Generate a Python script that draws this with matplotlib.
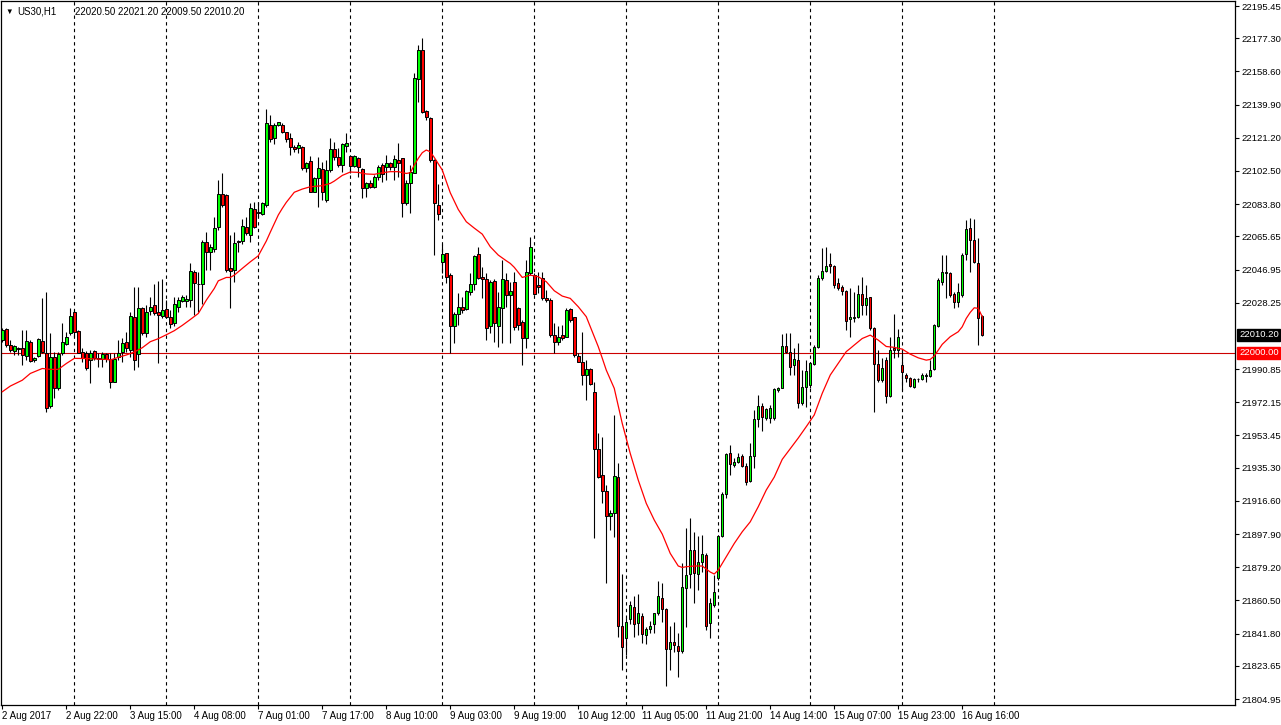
import numpy as np
import matplotlib.pyplot as plt
import matplotlib.transforms as mtransforms

plt.rcParams['font.family'] = ['Liberation Sans', 'DejaVu Sans']

W, H = 1281, 725

# hourly candles, US30 H1
opens = [
    22007.2, 22013.2, 22004.7, 22001.2, 22002.5, 22002.5, 21998.4, 22006.1, 21995.7, 21998.2,
    22006.6, 22000.1, 21970.2, 21997.4, 21980.3, 22000.1, 22004.9, 22011.3, 22023.0, 22012.3,
    22000.6, 22000.1, 21996.0, 22001.2, 21996.9, 21996.3, 21999.3, 21996.7, 21983.7, 21997.8,
    22000.6, 22006.3, 22001.6, 22020.4, 21999.3, 22025.1, 22011.0, 22023.8, 22026.9, 22023.2,
    22020.9, 22024.5, 22020.4, 22017.0, 22026.0, 22029.3, 22029.3, 22029.7, 22045.7, 22038.7,
    22038.7, 22062.2, 22056.6, 22058.8, 22070.7, 22089.8, 22088.9, 22047.6, 22046.6, 22063.0,
    22063.0, 22071.0, 22066.3, 22080.8, 22079.0, 22078.1, 22083.3, 22128.4, 22120.9, 22128.4,
    22128.4, 22124.3, 22120.9, 22116.2, 22115.2, 22116.2, 22104.0, 22108.1, 22090.8, 22098.3,
    22103.6, 22086.1, 22103.0, 22114.9, 22110.6, 22105.8, 22116.7, 22110.9, 22105.3, 22109.6,
    22103.4, 22092.7, 22095.5, 22093.6, 22099.3, 22105.8, 22104.5, 22106.8, 22104.5, 22108.6,
    22109.6, 22084.2, 22095.5, 22101.5, 22154.1, 22170.6, 22136.3, 22132.1, 22108.6, 22083.6,
    22051.3, 22056.0, 22043.8, 22015.3, 22021.7, 22025.6, 22024.7, 22034.4, 22038.6, 22055.5,
    22042.9, 22041.9, 22015.1, 22040.4, 22015.1, 22025.0, 22041.0, 22032.6, 22040.1, 22025.1,
    22017.5, 22008.2, 22044.8, 22043.8, 22038.2, 22042.3, 22030.7, 22029.8, 22010.0, 22006.3,
    22010.0, 22009.1, 22024.5, 22020.0, 21998.2, 21994.6, 21987.5, 21990.7, 21978.1, 21945.6,
    21931.1, 21922.1, 21908.2, 21909.5, 21929.8, 21846.0, 21839.5, 21849.8, 21856.9, 21847.9,
    21851.9, 21841.3, 21844.5, 21847.0, 21853.2, 21861.6, 21855.4, 21832.9, 21837.2, 21834.8,
    21832.1, 21867.3, 21875.4, 21888.9, 21875.4, 21882.3, 21886.1, 21847.6, 21857.9, 21872.9,
    21896.8, 21920.4, 21943.4, 21936.8, 21938.7, 21942.0, 21936.4, 21928.0, 21941.8, 21963.0,
    21970.0, 21963.1, 21963.1, 21963.5, 21979.1, 21980.4, 22003.9, 22000.7, 21993.1, 21996.0,
    21971.9, 21980.9, 21981.9, 21993.7, 22003.5, 22042.0, 22046.3, 22049.9, 22048.9, 22039.2,
    22037.3, 22034.8, 22018.9, 22019.8, 22020.3, 22032.9, 22026.9, 22031.2, 22013.8, 21994.0,
    21984.6, 21995.9, 21975.6, 22002.5, 22001.6, 21993.1, 21987.8, 21985.6, 21980.5, 21985.0,
    21985.0, 21986.9, 21986.9, 21990.8, 22015.3, 22039.7, 22044.8, 22044.8, 22033.0, 22028.8,
    22032.6, 22055.5, 22070.2, 22063.6, 22050.4, 22020.5,
]
highs = [
    22013.8, 22013.8, 22007.2, 22004.4, 22003.4, 22012.8, 22012.8, 22007.2, 21997.8, 22008.1,
    22030.7, 22034.4, 22011.3, 22000.6, 22000.6, 22016.6, 22011.9, 22025.0, 22024.1, 22012.8,
    22002.5, 22001.2, 22001.6, 22001.6, 21999.7, 22000.6, 21999.7, 21999.7, 21999.7, 22007.2,
    22008.2, 22011.9, 22023.2, 22037.3, 22037.3, 22026.0, 22026.9, 22031.6, 22038.8, 22040.7,
    22041.4, 22029.8, 22024.1, 22031.6, 22031.6, 22032.5, 22032.5, 22050.4, 22046.6, 22045.7,
    22063.5, 22068.2, 22061.6, 22076.7, 22097.3, 22101.5, 22089.8, 22066.3, 22068.2, 22063.5,
    22075.7, 22076.7, 22084.2, 22085.1, 22085.1, 22085.2, 22137.4, 22134.0, 22129.3, 22130.3,
    22129.3, 22124.6, 22123.7, 22117.1, 22119.0, 22116.6, 22107.7, 22110.9, 22099.3, 22110.6,
    22107.7, 22108.7, 22120.9, 22119.0, 22115.2, 22118.4, 22123.7, 22111.5, 22111.5, 22110.5,
    22104.0, 22096.4, 22097.4, 22100.2, 22105.8, 22106.8, 22111.5, 22107.7, 22111.5, 22118.0,
    22109.6, 22097.4, 22105.8, 22157.9, 22173.4, 22177.2, 22136.8, 22132.7, 22109.0, 22095.1,
    22061.1, 22056.4, 22044.8, 22023.2, 22033.9, 22031.6, 22035.4, 22044.8, 22055.1, 22059.8,
    22048.5, 22044.8, 22041.0, 22041.9, 22034.4, 22052.3, 22045.1, 22040.1, 22045.7, 22026.0,
    22018.5, 22052.3, 22065.4, 22045.2, 22045.7, 22045.7, 22035.4, 22030.7, 22016.6, 22015.3,
    22015.7, 22025.1, 22025.1, 22020.4, 21999.7, 22011.5, 21995.9, 21991.3, 21983.7, 21954.6,
    21952.7, 21925.5, 21911.4, 21964.9, 21937.7, 21875.3, 21850.4, 21860.3, 21863.1, 21864.1,
    21853.2, 21845.7, 21849.1, 21853.7, 21871.6, 21870.5, 21856.0, 21846.0, 21848.5, 21841.9,
    21881.7, 21901.1, 21906.7, 21899.2, 21896.8, 21897.3, 21887.0, 21861.6, 21874.8, 21897.3,
    21921.8, 21943.4, 21948.0, 21940.5, 21943.4, 21943.0, 21937.7, 21949.0, 21968.0, 21976.0,
    21972.0, 21969.1, 21970.6, 21980.0, 21981.0, 22010.4, 22011.0, 22011.0, 22002.5, 22005.4,
    21990.3, 21996.0, 21995.0, 22004.4, 22043.9, 22059.3, 22059.8, 22056.1, 22049.5, 22042.0,
    22038.2, 22035.4, 22036.3, 22034.4, 22038.2, 22042.9, 22038.2, 22031.6, 22014.7, 22001.6,
    21996.9, 21997.4, 22009.1, 22021.8, 22013.4, 22001.6, 21988.8, 21986.5, 21985.6, 21985.6,
    21988.4, 21988.4, 21995.9, 22016.5, 22042.0, 22055.1, 22055.1, 22045.7, 22034.5, 22039.2,
    22056.1, 22074.8, 22075.8, 22075.4, 22064.5, 22021.2,
]
lows = [
    22006.3, 22003.4, 22000.6, 21998.7, 21998.7, 21993.1, 21995.9, 21995.0, 21995.0, 21997.8,
    21999.7, 21966.8, 21968.7, 21974.3, 21979.0, 21998.7, 22004.4, 22010.0, 22009.1, 21999.7,
    21995.0, 21990.3, 21982.8, 21996.0, 21992.2, 21992.2, 21995.0, 21980.0, 21983.7, 21996.0,
    21995.0, 22000.6, 21997.8, 21990.3, 21992.2, 22010.0, 22009.1, 22021.3, 22021.3, 21994.1,
    22019.4, 22019.4, 22013.8, 22015.0, 22023.1, 22028.8, 22026.0, 22026.0, 22021.3, 22023.1,
    22027.8, 22046.6, 22046.6, 22056.9, 22069.2, 22082.3, 22045.7, 22025.2, 22040.0, 22056.9,
    22061.6, 22066.3, 22062.6, 22070.1, 22076.7, 22077.7, 22082.4, 22119.0, 22117.5, 22128.0,
    22123.7, 22119.0, 22111.5, 22113.4, 22112.4, 22103.0, 22102.1, 22090.8, 22090.5, 22082.4,
    22086.1, 22085.2, 22102.1, 22108.7, 22104.9, 22102.1, 22113.3, 22101.1, 22104.9, 22099.3,
    22087.0, 22088.0, 22092.7, 22092.7, 22097.4, 22096.4, 22097.4, 22103.0, 22097.4, 22099.3,
    22076.7, 22083.3, 22078.6, 22101.1, 22141.5, 22134.9, 22131.2, 22107.7, 22055.1, 22074.8,
    22044.8, 22039.1, 21999.7, 22005.3, 22015.7, 22022.2, 22024.1, 22032.6, 22035.4, 22041.9,
    22030.7, 22007.2, 22011.0, 22006.3, 22003.4, 22005.3, 22026.0, 22005.3, 22012.9, 22012.9,
    21993.1, 22002.5, 22043.8, 22032.6, 22033.5, 22029.8, 22028.8, 22009.1, 21999.7, 22004.4,
    22007.2, 22008.7, 22017.5, 21997.8, 21995.0, 21981.9, 21973.4, 21981.9, 21895.5, 21929.3,
    21915.5, 21870.1, 21900.1, 21896.4, 21840.0, 21821.3, 21829.7, 21847.5, 21840.0, 21841.0,
    21836.3, 21835.7, 21841.9, 21841.9, 21852.2, 21848.5, 21812.2, 21821.3, 21831.6, 21817.5,
    21831.0, 21845.7, 21867.3, 21859.2, 21866.3, 21876.7, 21843.8, 21839.1, 21856.9, 21872.0,
    21896.4, 21918.0, 21931.1, 21935.8, 21937.7, 21935.8, 21925.5, 21927.4, 21935.0, 21958.0,
    21956.0, 21962.2, 21960.3, 21962.2, 21978.1, 21980.0, 21999.7, 21987.5, 21987.5, 21969.1,
    21970.6, 21969.7, 21980.0, 21993.1, 22002.5, 22041.0, 22045.7, 22044.8, 22036.7, 22035.4,
    22032.6, 22012.9, 22009.1, 22017.5, 22019.4, 22021.3, 22021.3, 22012.8, 21966.8, 21983.7,
    21983.7, 21971.9, 21975.3, 21996.9, 21997.8, 21979.0, 21983.7, 21980.9, 21980.0, 21983.7,
    21984.6, 21983.7, 21986.5, 21990.3, 22014.7, 22038.2, 22030.7, 22031.6, 22025.1, 22026.0,
    22031.6, 22052.3, 22045.7, 22050.4, 22004.4, 22009.5,
]
closes = [
    22012.8, 22004.4, 22001.6, 22003.8, 22001.9, 21998.7, 22006.6, 21995.4, 21997.0, 22007.6,
    22000.6, 21969.1, 21997.4, 21980.3, 21999.3, 22005.9, 22009.1, 22020.7, 22011.9, 22000.1,
    21996.9, 21991.2, 22000.1, 21996.9, 21996.7, 21999.3, 21996.3, 21983.7, 21996.5, 22000.1,
    22005.3, 22002.5, 22020.7, 21996.0, 22025.4, 22011.4, 22023.2, 22025.6, 22022.6, 22021.3,
    22024.1, 22020.4, 22016.0, 22027.5, 22029.7, 22031.2, 22030.1, 22046.1, 22039.5, 22038.9,
    22062.2, 22056.6, 22059.4, 22070.1, 22089.4, 22083.2, 22046.6, 22046.2, 22062.0, 22062.2,
    22071.6, 22067.3, 22081.4, 22071.0, 22078.9, 22084.3, 22129.3, 22120.3, 22128.4, 22129.9,
    22124.6, 22120.3, 22115.8, 22114.9, 22117.1, 22104.0, 22107.2, 22090.8, 22098.3, 22104.0,
    22090.8, 22103.0, 22114.9, 22110.6, 22105.9, 22117.5, 22118.4, 22105.3, 22110.9, 22104.5,
    22092.7, 22095.5, 22093.6, 22099.3, 22104.9, 22100.8, 22106.8, 22104.5, 22109.2, 22107.1,
    22084.2, 22095.5, 22102.1, 22154.7, 22170.6, 22135.9, 22132.7, 22108.6, 22084.2, 22078.0,
    22055.7, 22042.9, 22015.3, 22021.8, 22026.0, 22024.1, 22034.8, 22038.8, 22054.5, 22042.3,
    22041.6, 22013.8, 22040.1, 22016.6, 22025.6, 22041.4, 22032.6, 22034.8, 22014.7, 22015.7,
    22008.2, 22045.3, 22059.8, 22033.0, 22036.9, 22030.7, 22029.8, 22010.0, 22006.3, 22008.7,
    22008.5, 22024.1, 22018.5, 21998.8, 21995.0, 21987.5, 21990.7, 21982.4, 21945.8, 21930.2,
    21922.3, 21908.0, 21909.5, 21930.6, 21846.0, 21834.0, 21848.5, 21857.7, 21847.2, 21853.6,
    21841.5, 21844.2, 21846.2, 21853.2, 21863.1, 21855.6, 21832.9, 21837.2, 21835.3, 21832.1,
    21867.8, 21874.8, 21888.9, 21875.7, 21881.9, 21886.4, 21846.2, 21858.8, 21865.0, 21896.8,
    21920.4, 21943.0, 21937.2, 21938.7, 21941.5, 21936.2, 21927.4, 21941.8, 21963.0, 21970.0,
    21964.0, 21968.4, 21968.7, 21979.6, 21980.4, 22003.9, 22000.7, 21992.2, 21996.3, 21971.9,
    21980.9, 21989.8, 21994.1, 22003.5, 22042.4, 22046.1, 22048.9, 22048.9, 22038.2, 22036.3,
    22034.8, 22017.9, 22020.4, 22020.3, 22032.9, 22026.9, 22030.7, 22013.8, 21993.5, 21984.6,
    21991.2, 21975.8, 22001.6, 22001.6, 22008.7, 21989.0, 21985.6, 21981.3, 21985.0, 21985.2,
    21987.8, 21987.8, 21990.3, 22015.6, 22041.0, 22045.4, 22045.7, 22032.6, 22028.5, 22034.5,
    22055.1, 22069.8, 22063.6, 22051.0, 22019.8, 22010.2,
]

# moving average (red line), read at these bar numbers
ma_idx = [0, 2, 5, 7, 10, 12, 14, 16, 18, 21, 26, 27, 29, 31, 33, 35, 37, 39, 41, 43,
          45, 47, 49, 51, 53, 54, 56, 57, 58, 60, 62, 64, 66, 67, 69, 70, 71, 73, 75, 77,
          80, 82, 83, 85, 87, 89, 91, 93, 95, 97, 99, 101, 102, 103, 104, 105, 106, 107, 108, 110,
          112, 114, 116, 118, 120, 122, 124, 126, 127, 128, 130, 132, 134, 136, 138, 140, 142, 144, 146, 148,
          149, 150, 151, 153, 155, 157, 159, 161, 163, 165, 167, 169, 170, 171, 173, 175, 177, 178, 179, 181,
          183, 185, 187, 189, 191, 193, 195, 197, 199, 201, 203, 205, 207, 209, 211, 212, 213, 215, 217, 219,
          221, 223, 225, 227, 229, 231, 232, 233, 235, 237, 239, 240, 241, 242, 243, 244, 245]
ma_val = [21978.1, 21981.3, 21984.6, 21988.4, 21991.2, 21990.7, 21990.7, 21994.0, 21996.9, 21996.8,
          21996.3, 21996.0, 21997.5, 21998.8, 22000.5, 22002.9, 22006.3, 22008.0, 22010.2, 22012.5,
          22015.5, 22018.8, 22022.2, 22029.7, 22036.3, 22040.6, 22042.5, 22042.5, 22043.8, 22047.6,
          22051.3, 22054.7, 22063.0, 22068.0, 22077.7, 22081.4, 22084.8, 22090.5, 22092.3, 22093.6,
          22094.2, 22095.5, 22096.8, 22100.0, 22101.9, 22101.7, 22100.8, 22100.6, 22101.5, 22102.1,
          22102.1, 22101.1, 22101.5, 22105.8, 22109.6, 22112.8, 22114.3, 22113.3, 22110.1, 22103.0,
          22090.2, 22080.8, 22073.9, 22070.3, 22066.9, 22059.8, 22055.1, 22051.9, 22050.4, 22048.2,
          22042.5, 22043.8, 22042.9, 22040.1, 22035.0, 22032.0, 22030.7, 22026.0, 22020.4, 22009.1,
          22003.5, 21997.0, 21990.3, 21980.0, 21960.2, 21943.3, 21928.3, 21915.2, 21905.8, 21897.9,
          21887.0, 21879.9, 21879.1, 21879.5, 21879.9, 21879.9, 21876.5, 21875.4, 21877.6, 21885.1,
          21892.6, 21899.2, 21904.8, 21913.3, 21922.7, 21930.0, 21940.0, 21946.0, 21952.0, 21958.4,
          21965.0, 21977.2, 21987.5, 21994.1, 22000.7, 22002.5, 22004.4, 22008.1, 22010.0, 22007.2,
          22003.6, 22003.1, 22002.1, 21999.3, 21997.2, 21995.9, 21996.3, 21998.2, 22004.8, 22009.1,
          22011.9, 22014.7, 22019.4, 22022.8, 22025.4, 22025.1, 22020.4]

date_labels = ['2 Aug 2017', '2 Aug 22:00', '3 Aug 15:00', '4 Aug 08:00', '7 Aug 01:00',
               '7 Aug 17:00', '8 Aug 10:00', '9 Aug 03:00', '9 Aug 19:00', '10 Aug 12:00',
               '11 Aug 05:00', '11 Aug 21:00', '14 Aug 14:00', '15 Aug 07:00', '15 Aug 23:00',
               '16 Aug 16:00']
price_ticks = [22195.45, 22177.30, 22158.60, 22139.90, 22121.20, 22102.50, 22083.80,
               22065.65, 22046.95, 22028.25, 21990.85, 21972.15, 21953.45, 21935.30,
               21916.60, 21897.90, 21879.20, 21860.50, 21841.80, 21823.65, 21804.95]
level = 22000.00
symbol = 'US30,H1'

o = np.array(opens)
h = np.array(highs)
l = np.array(lows)
c = np.array(closes)
x = np.arange(len(o))
up = c >= o

fig = plt.figure(figsize=(W / 100, H / 100), dpi=100)
fig.patch.set_facecolor('white')
ax = fig.add_axes([1 / W, 20 / H, 1234 / W, 704 / H])
ax.set_facecolor('white')

# vertical dashed grid every 23 bars
for g in range(18, len(o) + 3, 23):
    ax.axvline(g, color='black', lw=0.8, ls=(0, (3, 3)), zorder=1)

ax.axhline(level, color='#cc0000', lw=0.8, zorder=2)

ax.vlines(x, l, h, color='black', lw=0.8, zorder=3)
ax.bar(x, np.maximum(np.abs(c - o), 0.35), bottom=np.minimum(o, c), width=0.62,
       color=np.where(up, '#00ff00', '#ff0000'), edgecolor='black', linewidth=0.7, zorder=4)

ax.plot(ma_idx, ma_val, color='red', lw=0.9, zorder=5)

ax.set_xlim(-0.33, 308.2)
ax.set_ylim(21801.58, 22198.27)

ax.yaxis.tick_right()
ax.set_yticks(price_ticks)
ax.set_yticklabels(['%.2f' % p for p in price_ticks])
ax.set_xticks(np.arange(len(date_labels)) * 16)
ax.set_xticklabels(date_labels, ha='left')
ax.tick_params(axis='y', labelsize=6.8, length=3, width=0.8, pad=2, colors='black')
ax.tick_params(axis='x', labelsize=7, length=3, width=0.8, pad=1.5, colors='black')
for s in ax.spines.values():
    s.set_color('black')
    s.set_linewidth(0.9)

# price boxes on the right
tr = mtransforms.blended_transform_factory(ax.transAxes, ax.transData)
ax.text(1.0 + 4 / 1234, c[-1], '%.2f' % c[-1], transform=tr, ha='left', va='center',
        fontsize=6.8, color='white', clip_on=False, zorder=6,
        bbox=dict(boxstyle='square,pad=0.18', fc='black', ec='black'))
ax.text(1.0 + 4 / 1234, level, '%.2f' % level, transform=tr, ha='left', va='center',
        fontsize=6.8, color='white', clip_on=False, zorder=6,
        bbox=dict(boxstyle='square,pad=0.18', fc='#ff0000', ec='#ff0000'))

# header
fig.text(5 / W, 1 - 12 / H, '\u25bc', fontsize=5.5, va='center', ha='left')
fig.text(17 / W, 1 - 12 / H, symbol, fontsize=7, va='center', ha='left')
fig.text(75 / W, 1 - 12 / H, '%.2f %.2f %.2f %.2f' % (o[-1], h[-1], l[-1], c[-1]),
         fontsize=7, va='center', ha='left')

fig.savefig('out.png', dpi=100)
